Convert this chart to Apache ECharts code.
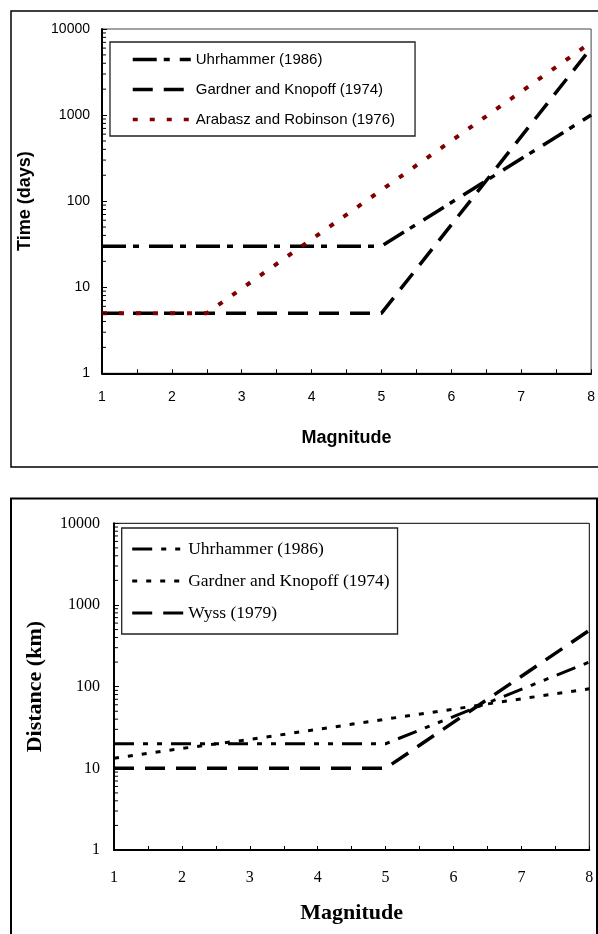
<!DOCTYPE html>
<html><head><meta charset="utf-8">
<script src="https://cdn.jsdelivr.net/npm/echarts@6/dist/echarts.min.js"></script>
<style>
html,body{margin:0;padding:0;background:#fff;width:598px;height:934px;overflow:hidden}
#top{position:absolute;left:0;top:0;width:598px;height:480px}
#bot{position:absolute;left:0;top:480px;width:598px;height:454px}
</style>
</head><body><div id="top"></div><div id="bot"></div>
<script>
// ---- data ----
const xTickLabels = ['1', '2', '3', '4', '5', '6', '7', '8'];
const yTickLabels = ['1', '10', '100', '1000', '10000'];

// Top chart: Time (days) vs Magnitude
const topNames = ['Uhrhammer (1986)', 'Gardner and Knopoff (1974)', 'Arabasz and Robinson (1976)'];
const topMagUhr = [1, 5, 8];
const topDaysUhr = [30, 30, 1000];
const topMagGK = [1, 5, 8];
const topDaysGK = [5, 5, 6000];
const topMagAR = [1, 2.5, 8];
const topDaysAR = [5, 5, 7000];

// Bottom chart: Distance (km) vs Magnitude
const botNames = ['Uhrhammer (1986)', 'Gardner and Knopoff (1974)', 'Wyss (1979)'];
const botMagUhr = [1, 5, 8];
const botKmUhr = [20, 20, 200];
const botMagGK = [1, 2, 3, 4, 5, 6, 7, 8];
const botKmGK = [13.3, 17.5, 22.6, 30, 40, 53, 71, 94];
const botMagWyss = [1, 5, 8];
const botKmWyss = [10, 10, 490];

// ---- helpers ----
const pairs = (xs, ys) => xs.map((x, i) => [x, ys[i]]);
const yMin = Number(yTickLabels[0]), yMax = Number(yTickLabels[yTickLabels.length - 1]);
const xMin = Number(xTickLabels[0]), xMax = Number(xTickLabels[xTickLabels.length - 1]);

function minorTickSeries() {
  const vals = [];
  for (let d = yMin; d < yMax; d *= 10) for (let k = 2; k <= 9; k++) vals.push([xMin, k * d]);
  return {
    type: 'custom', silent: true, z: 5, clip: false, data: vals,
    renderItem: (p, api) => {
      const pt = api.coord([api.value(0), api.value(1)]);
      return { type: 'line', shape: { x1: pt[0], y1: pt[1], x2: pt[0] + 4, y2: pt[1] },
               style: { stroke: '#000', lineWidth: 1 } };
    }
  };
}

function xAxisCfg(font, size, nameSize, nameGap, labelMargin) {
  return {
    type: 'value', min: xMin, max: xMax, interval: 0.5,
    name: 'Magnitude', nameLocation: 'middle', nameGap: nameGap,
    nameTextStyle: { fontFamily: font, fontWeight: 'bold', fontSize: nameSize, color: '#000' },
    axisLine: { lineStyle: { color: '#000', width: 2 } },
    axisTick: { inside: true, length: 4, lineStyle: { color: '#000', width: 1 } },
    axisLabel: { fontFamily: font, fontSize: size, color: '#000', margin: labelMargin,
      formatter: v => { const s = String(Math.round(v)); return Math.abs(v - Math.round(v)) < 1e-6 && xTickLabels.includes(s) ? s : ''; } },
    splitLine: { show: false }
  };
}

function yAxisCfg(font, size, name, nameSize, nameGap, labelMargin) {
  return {
    type: 'log', logBase: 10, min: yMin, max: yMax,
    name: name, nameLocation: 'middle', nameGap: nameGap,
    nameTextStyle: { fontFamily: font, fontWeight: 'bold', fontSize: nameSize, color: '#000' },
    axisLine: { lineStyle: { color: '#000', width: 2 } },
    axisTick: { inside: true, length: 5, lineStyle: { color: '#000', width: 1 } },
    axisLabel: { fontFamily: font, fontSize: size, color: '#000', margin: labelMargin,
      formatter: v => { const s = String(Math.round(v)); return yTickLabels.includes(s) ? s : ''; } },
    splitLine: { show: false }
  };
}

function lineSeries(name, data, color, width, dash, z) {
  return { name: name, type: 'line', data: data, symbol: 'none', z: z,
    lineStyle: { color: color, width: width, type: dash, cap: 'butt' },
    itemStyle: { color: color } };
}

// ---- top chart ----
const SANS = 'Liberation Sans, Arial, sans-serif';
const topChart = echarts.init(document.getElementById('top'), null, { renderer: 'canvas' });
topChart.setOption({
  animation: false,
  graphic: [{ type: 'rect', shape: { x: 11, y: 11, width: 600, height: 456 },
              style: { fill: 'none', stroke: '#000', lineWidth: 1.5 }, silent: true }],
  grid: { left: 102, top: 29, width: 490.5, height: 344.3, show: true,
          borderColor: '#444', borderWidth: 1, backgroundColor: 'transparent' },
  legend: {
    orient: 'vertical', left: 110, top: 42, data: topNames,
    itemWidth: 58, itemHeight: 14, itemGap: 15,
    padding: [10, 20, 9, 21],
    borderColor: '#222', borderWidth: 1.3,
    itemStyle: { opacity: 0, borderWidth: 0 },
    lineStyle: { width: 3.5 },
    textStyle: { fontFamily: SANS, fontSize: 15, color: '#000' },
    selectedMode: false
  },
  xAxis: xAxisCfg(SANS, 14, 18, 56, 17),
  yAxis: yAxisCfg(SANS, 14, 'Time (days)', 18, 68, 12),
  series: [
    lineSeries(topNames[0], pairs(topMagUhr, topDaysUhr), '#000', 3.5, [24, 7, 6, 10], 3),
    lineSeries(topNames[1], pairs(topMagGK, topDaysGK), '#000', 3.5, [20, 11], 3),
    lineSeries(topNames[2], pairs(topMagAR, topDaysAR), '#800000', 4, [5, 12], 4),
    minorTickSeries()
  ]
});

// ---- bottom chart ----
const SERIF = 'Liberation Serif, Times New Roman, serif';
const botChart = echarts.init(document.getElementById('bot'), null, { renderer: 'canvas' });
botChart.setOption({
  animation: false,
  graphic: [{ type: 'rect', shape: { x: 11, y: 18.5, width: 586, height: 500 },
              style: { fill: 'none', stroke: '#000', lineWidth: 2 }, silent: true }],
  grid: { left: 114, top: 43.3, width: 475.3, height: 326.7, show: true,
          borderColor: '#000', borderWidth: 1, backgroundColor: 'transparent' },
  legend: {
    orient: 'vertical', left: 121.7, top: 48, data: botNames,
    itemWidth: 51, itemHeight: 14, itemGap: 14,
    padding: [12, 8, 12, 9],
    borderColor: '#222', borderWidth: 1.3,
    itemStyle: { opacity: 0, borderWidth: 0 },
    lineStyle: { width: 3 },
    textStyle: { fontFamily: SERIF, fontSize: 17.5, color: '#000' },
    selectedMode: false
  },
  xAxis: xAxisCfg(SERIF, 16, 22, 52, 20),
  yAxis: yAxisCfg(SERIF, 16, 'Distance (km)', 22, 68, 14),
  series: [
    lineSeries(botNames[0], pairs(botMagUhr, botKmUhr), '#000', 3, [20, 9, 5, 9, 5, 9], 3),
    lineSeries(botNames[1], pairs(botMagGK, botKmGK), '#000', 3, [5, 9], 3),
    lineSeries(botNames[2], pairs(botMagWyss, botKmWyss), '#000', 3.5, [20, 11], 3),
    minorTickSeries()
  ]
});
</script>
</body></html>
